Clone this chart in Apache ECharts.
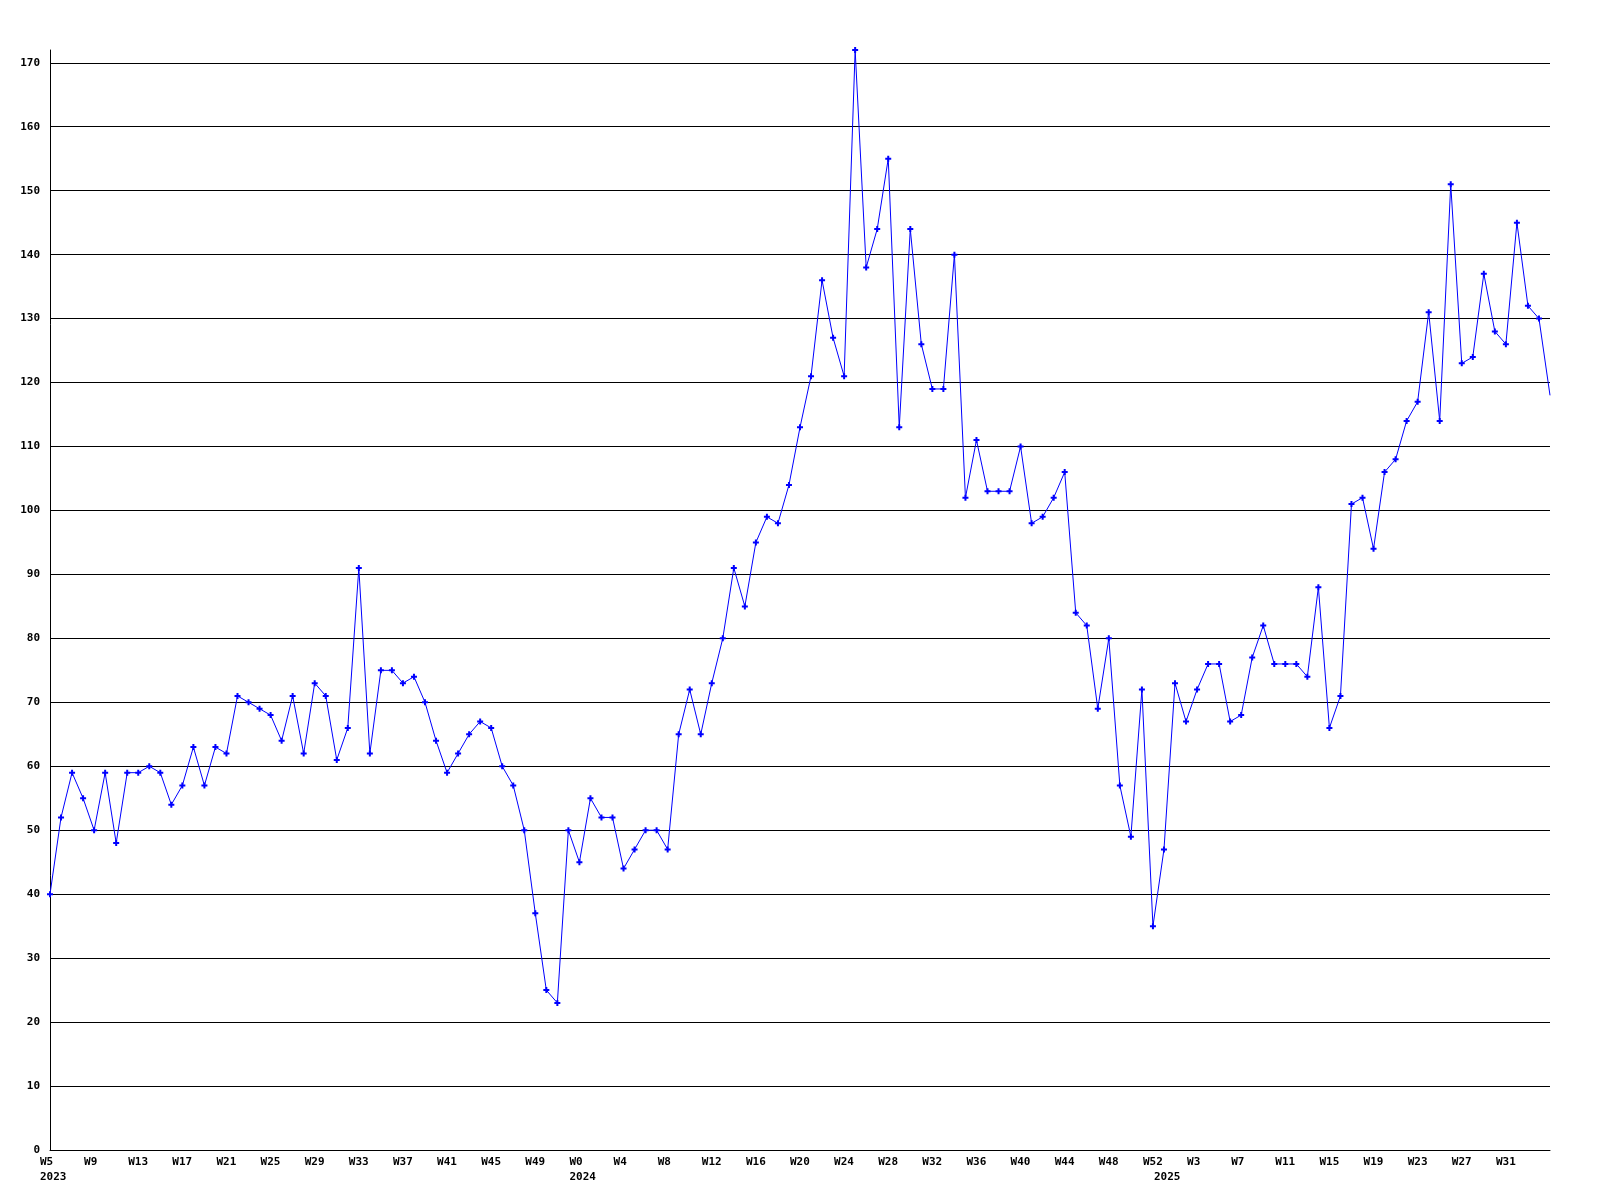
<!DOCTYPE html>
<html>
<head>
<meta charset="utf-8">
<script src="https://cdn.jsdelivr.net/npm/echarts@6/dist/echarts.min.js"></script>
<style>html,body{margin:0;padding:0;background:#fff;}#c{width:1600px;height:1200px;}</style>
</head>
<body>
<div id="c"></div>
<script>
// Week numbers per year (2023: W5..W52, 2024: W0..W52, 2025: W0..W35)
const weeks2023 = [5,6,7,8,9,10,11,12,13,14,15,16,17,18,19,20,21,22,23,24,25,26,27,28,29,30,31,32,33,34,35,36,37,38,39,40,41,42,43,44,45,46,47,48,49,50,51,52];
const weeks2024 = [0,1,2,3,4,5,6,7,8,9,10,11,12,13,14,15,16,17,18,19,20,21,22,23,24,25,26,27,28,29,30,31,32,33,34,35,36,37,38,39,40,41,42,43,44,45,46,47,48,49,50,51,52];
const weeks2025 = [0,1,2,3,4,5,6,7,8,9,10,11,12,13,14,15,16,17,18,19,20,21,22,23,24,25,26,27,28,29,30,31,32,33,34,35];

const values2023 = [40,52,59,55,50,59,48,59,59,60,59,54,57,63,57,63,62,71,70,69,68,64,71,62,73,71,61,66,91,62,75,75,73,74,70,64,59,62,65,67,66,60,57,50,37,25,23,50];
const values2024 = [45,55,52,52,44,47,50,50,47,65,72,65,73,80,91,85,95,99,98,104,113,121,136,127,121,172,138,144,155,113,144,126,119,119,140,102,111,103,103,103,110,98,99,102,106,84,82,69,80,57,49,72,35];
const values2025 = [47,73,67,72,76,76,67,68,77,82,76,76,76,74,88,66,71,101,102,94,106,108,114,117,131,114,151,123,124,137,128,126,145,132,130,118];

const yTicks = [0,10,20,30,40,50,60,70,80,90,100,110,120,130,140,150,160,170];

const years = [
  {year: '2023', weeks: weeks2023, values: values2023},
  {year: '2024', weeks: weeks2024, values: values2024},
  {year: '2025', weeks: weeks2025, values: values2025}
];

const categories = [];
const yearStart = {};
const values = [];
years.forEach(y => {
  yearStart[categories.length] = y.year;
  y.weeks.forEach((w, i) => { categories.push('W' + w); values.push(y.values[i]); });
});

const lastIdx = values.length - 1;
const seriesData = values.map((v, i) => i === lastIdx ? {value: v, symbol: 'none'} : v);
function showWeek(idx) { return idx % 4 === 0 && idx !== lastIdx; }

const chart = echarts.init(document.getElementById('c'), null, {renderer: 'canvas'});
const font = {fontFamily: 'DejaVu Sans Mono', fontWeight: 'bold', fontSize: 11, color: '#000'};

chart.setOption({
  animation: false,
  backgroundColor: '#fff',
  grid: {left: 50, right: 50, top: 50, bottom: 50, containLabel: false},
  xAxis: {
    type: 'category',
    data: categories,
    boundaryGap: false,
    axisLine: {show: true, lineStyle: {color: '#000', width: 1}},
    axisTick: {show: false},
    splitLine: {show: false},
    axisLabel: {
      interval: function (idx) { return showWeek(idx) || yearStart[idx] !== undefined; },
      align: 'right',
      margin: 5,
      formatter: function (value, idx) {
        const yr = yearStart[idx];
        const top = showWeek(idx) ? value : ' ';
        return yr ? '{a|' + top + '}\n{a|' + yr + '}' : '{a|' + top + '}';
      },
      rich: {a: Object.assign({width: 10, align: 'left', lineHeight: 15}, font)}
    }
  },
  yAxis: {
    type: 'value',
    min: 0,
    max: 172,
    interval: 10,
    axisLine: {show: true, lineStyle: {color: '#000', width: 1}},
    axisTick: {show: false},
    splitLine: {show: true, showMaxLine: false, lineStyle: {color: '#000', width: 1}},
    axisLabel: Object.assign({
      margin: 10,
      showMaxLabel: false,
      formatter: function (v) { return yTicks.indexOf(v) >= 0 ? String(v) : ''; }
    }, font)
  },
  series: [{
    type: 'line',
    data: seriesData,
    lineStyle: {color: '#0000ff', width: 1},
    itemStyle: {color: '#0000ff'},
    symbol: 'path://M2,0h2v2h2v2h-2v2h-2v-2h-2v-2h2z',
    symbolSize: 6,
    showAllSymbol: true,
    clip: false
  }]
});
</script>
</body>
</html>
